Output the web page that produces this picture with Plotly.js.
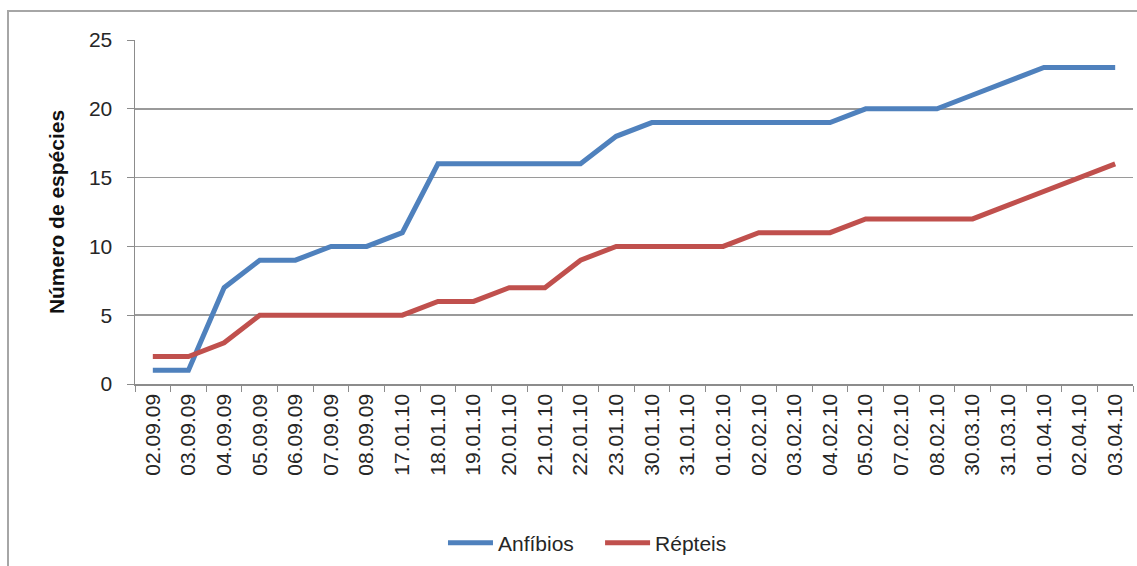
<!DOCTYPE html>
<html><head><meta charset="utf-8">
<script src="https://cdn.plot.ly/plotly-3.0.1.min.js"></script>
<style>
html,body{margin:0;padding:0;background:#fff;overflow:hidden;}
#frame{position:absolute;left:7px;top:10px;width:1200px;height:600px;border-left:2px solid #a6a6a6;border-top:2px solid #a6a6a6;}
#chart{position:absolute;left:0;top:0;width:1137px;height:566px;}
</style>
</head><body>
<div id="frame"></div>
<div id="chart"></div>
<script>
const dates = ["02.09.09","03.09.09","04.09.09","05.09.09","06.09.09","07.09.09","08.09.09","17.01.10","18.01.10","19.01.10","20.01.10","21.01.10","22.01.10","23.01.10","30.01.10","31.01.10","01.02.10","02.02.10","03.02.10","04.02.10","05.02.10","07.02.10","08.02.10","30.03.10","31.03.10","01.04.10","02.04.10","03.04.10"];
const anfibios = [1,1,7,9,9,10,10,11,16,16,16,16,16,18,19,19,19,19,19,19,20,20,20,21,22,23,23,23];
const repteis = [2,2,3,5,5,5,5,5,6,6,7,7,9,10,10,10,10,11,11,11,12,12,12,12,13,14,15,16];
const yTicks = [0,5,10,15,20,25];

const font = "Liberation Sans, Arial, Helvetica, sans-serif";
const traces = [
  {x: dates, y: anfibios, name: "Anfíbios", type: "scatter", mode: "lines",
   line: {color: "#4f81bd", width: 5}, legend: "legend"},
  {x: dates, y: repteis, name: "Répteis", type: "scatter", mode: "lines",
   line: {color: "#c0504d", width: 5}, legend: "legend2"}
];
const legFont = {family: font, size: 21, color: "#262626"};
const layout = {
  width: 1137, height: 566,
  margin: {l: 135, r: 4, t: 40, b: 181},
  paper_bgcolor: "rgba(0,0,0,0)", plot_bgcolor: "rgba(0,0,0,0)",
  font: {family: font, color: "#262626", size: 21},
  showlegend: true,
  legend: {orientation: "h", x: 0.3086, xanchor: "left", y: -0.458, yanchor: "middle",
           font: legFont, itemwidth: 45, bgcolor: "rgba(0,0,0,0)"},
  legend2: {orientation: "h", x: 0.466, xanchor: "left", y: -0.458, yanchor: "middle",
           font: legFont, itemwidth: 45, bgcolor: "rgba(0,0,0,0)"},
  xaxis: {type: "category", tickmode: "array", tickvals: dates, ticktext: dates,
          tickangle: -90, tickfont: {family: font, size: 21, color: "#262626"},
          showline: true, linecolor: "#8c8c8c", linewidth: 1.5,
          ticks: "outside", ticklen: 6, tickcolor: "#8c8c8c", tickson: "boundaries",
          showgrid: false, zeroline: false, range: [-0.5, dates.length - 0.5], automargin: false},
  yaxis: {range: [0, 25], tickmode: "array", tickvals: yTicks, ticktext: yTicks.map(String),
          tickfont: {family: font, size: 21, color: "#262626"}, ticklabelstandoff: 10,
          showline: true, linecolor: "#8c8c8c", linewidth: 1.5,
          ticks: "outside", ticklen: 7, tickcolor: "#8c8c8c",
          showgrid: true, gridcolor: "#9a9a9a", gridwidth: 1.5, zeroline: false,
          title: {text: "<b>Número de espécies</b>", font: {family: font, size: 21, color: "#111"}, standoff: 18},
          automargin: false}
};
Plotly.newPlot("chart", traces, layout, {displayModeBar: false, staticPlot: true});
</script>
</body></html>
